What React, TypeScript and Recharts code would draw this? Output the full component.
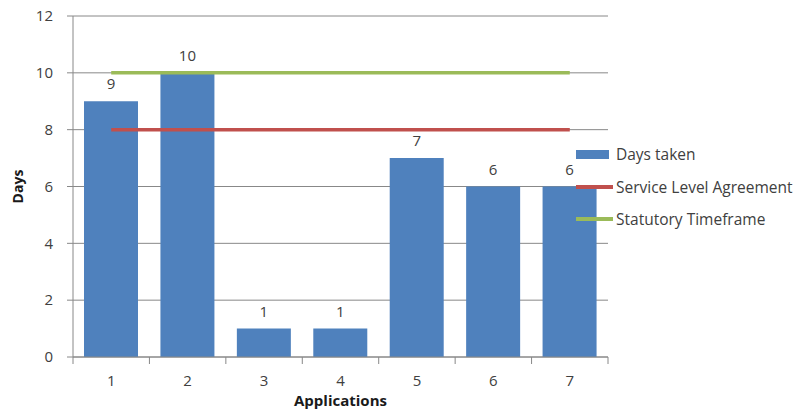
import React from "react";
import { ComposedChart, Bar, Line, XAxis, YAxis, CartesianGrid, LabelList, Legend } from "recharts";

const applications = ["1", "2", "3", "4", "5", "6", "7"];
const daysTaken = [9, 10, 1, 1, 7, 6, 6];
const serviceLevelAgreement = [8, 8, 8, 8, 8, 8, 8];
const statutoryTimeframe = [10, 10, 10, 10, 10, 10, 10];
const yTicks = [0, 2, 4, 6, 8, 10, 12];

const data = applications.map((app, i) => ({
  app,
  days: daysTaken[i],
  sla: serviceLevelAgreement[i],
  statutory: statutoryTimeframe[i],
}));

const FONT = "'Open Sans', sans-serif";
const TEXT = "#404040";
const AXIS = "#888888";
const X_TICK_MARGIN = 18;

const legendItems = [
  { label: "Days taken", color: "#4F81BD", kind: "bar" },
  { label: "Service Level Agreement", color: "#C0504D", kind: "line" },
  { label: "Statutory Timeframe", color: "#9BBB59", kind: "line" },
];

function ChartLegend() {
  return (
    <div style={{ fontFamily: FONT, fontSize: 15.5, color: TEXT }}>
      {legendItems.map((it) => (
        <div key={it.label} style={{ display: "flex", alignItems: "center", height: 32.5 }}>
          <div style={{ width: 37, display: "flex", alignItems: "center" }}>
            <div
              style={{
                width: it.kind === "bar" ? 33 : 37,
                height: it.kind === "bar" ? 9 : 4,
                background: it.color,
              }}
            />
          </div>
          <span style={{ marginLeft: 3, whiteSpace: "nowrap" }}>{it.label}</span>
        </div>
      ))}
    </div>
  );
}

// category label plus tick marks on the category boundaries
function XTick(props: any) {
  const { x, y, payload, index, visibleTicksCount } = props;
  const half = payload?.offset ?? 0;
  const axisY = y - X_TICK_MARGIN;
  const last = index === visibleTicksCount - 1;
  return (
    <g>
      <line x1={x - half} x2={x - half} y1={axisY} y2={axisY + 7} stroke={AXIS} />
      {last && <line x1={x + half} x2={x + half} y1={axisY} y2={axisY + 7} stroke={AXIS} />}
      <text x={x} y={y} dy="0.71em" textAnchor="middle" fill={TEXT} fontSize={15} fontFamily={FONT}>
        {payload.value}
      </text>
    </g>
  );
}

function YTick(props: any) {
  const { x, y, payload } = props;
  return (
    <text x={x} y={y} dy="0.355em" textAnchor="end" fill={TEXT} fontSize={15} fontFamily={FONT}>
      {payload.value}
    </text>
  );
}

export default function App() {
  return (
    <div style={{ position: "absolute", left: 0, top: 0, width: 803, height: 412, background: "#fff" }}>
      <ComposedChart
        width={803}
        height={412}
        data={data}
        margin={{ top: 16, right: 195, bottom: 25, left: 28 }}
        barSize={54}
      >
        <CartesianGrid vertical={false} stroke={AXIS} strokeWidth={1} />
        <XAxis
          dataKey="app"
          height={30}
          axisLine={{ stroke: AXIS }}
          tickLine={false}
          tickSize={0}
          tickMargin={X_TICK_MARGIN}
          tick={<XTick />}
          label={{
            value: "Applications",
            position: "insideBottom",
            offset: -19,
            fill: "#1a1a1a",
            fontSize: 15,
            fontWeight: 700,
            fontFamily: FONT,
          }}
        />
        <YAxis
          domain={[0, 12]}
          ticks={yTicks}
          width={45}
          axisLine={{ stroke: AXIS }}
          tickLine={{ stroke: AXIS }}
          tickSize={6}
          tickMargin={14}
          tick={<YTick />}
          label={{
            value: "Days",
            angle: -90,
            position: "insideLeft",
            offset: -10,
            fill: "#1a1a1a",
            fontSize: 14,
            fontWeight: 700,
            fontFamily: FONT,
            style: { textAnchor: "middle" },
          }}
        />
        <Bar dataKey="days" fill="#4F81BD" isAnimationActive={false}>
          <LabelList dataKey="days" position="top" offset={12} fill={TEXT} fontSize={15} fontFamily={FONT} />
        </Bar>
        <Line
          dataKey="sla"
          stroke="#C0504D"
          strokeWidth={3.5}
          dot={false}
          activeDot={false}
          isAnimationActive={false}
        />
        <Line
          dataKey="statutory"
          stroke="#9BBB59"
          strokeWidth={3.5}
          dot={false}
          activeDot={false}
          isAnimationActive={false}
        />
        <Legend
          layout="vertical"
          align="center"
          verticalAlign="middle"
          content={() => <ChartLegend />}
          wrapperStyle={{ left: 576, top: 138, width: 227 }}
        />
      </ComposedChart>
    </div>
  );
}
